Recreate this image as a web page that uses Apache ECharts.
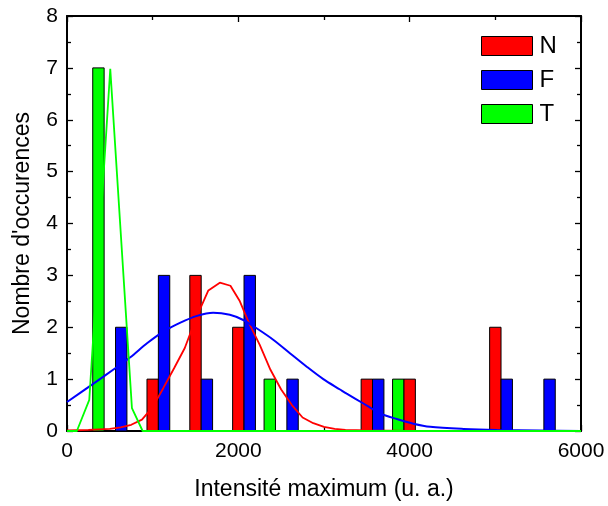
<!DOCTYPE html>
<html>
<head>
<meta charset="utf-8">
<script src="https://cdn.jsdelivr.net/npm/echarts@6/dist/echarts.min.js"></script>
<style>
html,body{margin:0;padding:0;background:#fff;}
#chart{width:608px;height:506px;}
</style>
</head>
<body>
<div id="chart"></div>
<script>
// Histogram data (bin centre, count)
const nBins = [1000, 1500, 2000, 3500, 4000, 5000];
const nCounts = [1, 3, 2, 1, 1, 2];
const fBins = [500, 1000, 1500, 2000, 2500, 3500, 5000, 5500];
const fCounts = [2, 3, 1, 3, 1, 1, 1, 1];
const tBins = [500, 2500, 4000];
const tCounts = [7, 1, 1];

// Fitted curves
const nFitX = [0, 250, 500, 625, 750, 875, 1000, 1125, 1250, 1375, 1500, 1650, 1784, 1908, 2018, 2125, 2250, 2375, 2500, 2625, 2750, 2875, 3000, 3125, 3250, 3500, 4000, 6000];
const nFitY = [0.01, 0.02, 0.04, 0.07, 0.12, 0.22, 0.46, 0.83, 1.21, 1.6, 2.15, 2.71, 2.86, 2.8, 2.5, 2.08, 1.66, 1.18, 0.8, 0.5, 0.26, 0.15, 0.08, 0.04, 0.02, 0.01, 0, 0];
const fFitX = [0, 271, 563, 739, 934, 1129, 1324, 1518, 1706, 1901, 2057, 2213, 2407, 2602, 2798, 2992, 3187, 3265, 3460, 3655, 3850, 4044, 4240, 4630, 5020, 5500, 6000];
const fFitY = [0.56, 0.87, 1.21, 1.42, 1.69, 1.92, 2.09, 2.22, 2.28, 2.24, 2.14, 1.98, 1.76, 1.5, 1.24, 1.0, 0.8, 0.72, 0.53, 0.34, 0.23, 0.14, 0.08, 0.04, 0.02, 0.01, 0];
const tFitX = [0, 115, 260, 505, 758, 883, 6000];
const tFitY = [0, 0, 0.6, 6.98, 0.44, 0, 0];

const xTicks = [0, 2000, 4000, 6000];
const yTicks = [0, 1, 2, 3, 4, 5, 6, 7, 8];

const BAR_W = 133; // bar width in data units
const FONT = '"Liberation Sans", Arial, sans-serif';

function pairs(xs, ys) { return xs.map((x, i) => [x, ys[i]]); }

function barRenderer(offset, color) {
  return function (params, api) {
    const x = api.value(0), y = api.value(1);
    const p0 = api.coord([x + (offset - 0.5) * BAR_W, y]);
    const p1 = api.coord([x + (offset + 0.5) * BAR_W, 0]);
    return {
      type: 'rect',
      shape: { x: p0[0], y: p0[1], width: p1[0] - p0[0], height: p1[1] - p0[1] },
      style: { fill: color, stroke: '#000', lineWidth: 1 }
    };
  };
}

const axisCommon = {
  axisLine: { show: true, onZero: false, lineStyle: { color: '#000', width: 2 } },
  axisTick: { show: true, inside: true, length: 6, lineStyle: { color: '#000', width: 1.3 } },
  minorTick: { show: true, splitNumber: 2, length: 4, lineStyle: { color: '#000', width: 1.3 } },
  splitLine: { show: false }
};

const plain = v => String(v);

const chart = echarts.init(document.getElementById('chart'), null, { renderer: 'canvas' });
chart.setOption({
  animation: false,
  backgroundColor: '#fff',
  grid: { left: 67, right: 27, top: 16, bottom: 75, containLabel: false },
  legend: {
    data: [
      { name: 'N', icon: 'rect', itemStyle: { color: '#ff0000', borderColor: '#000', borderWidth: 1 } },
      { name: 'F', icon: 'rect', itemStyle: { color: '#0000ff', borderColor: '#000', borderWidth: 1 } },
      { name: 'T', icon: 'rect', itemStyle: { color: '#00ff00', borderColor: '#000', borderWidth: 1 } }
    ],
    orient: 'vertical',
    left: 481, top: 34,
    padding: 0,
    itemWidth: 51, itemHeight: 19, itemGap: 10,
    textStyle: { fontFamily: FONT, fontSize: 24, color: '#000', padding: [0, 0, 0, 2] },
    selectedMode: false
  },
  xAxis: [
    Object.assign({}, axisCommon, {
      type: 'value', min: xTicks[0], max: xTicks[xTicks.length - 1], interval: xTicks[1] - xTicks[0],
      position: 'bottom',
      name: 'Intensité maximum (u. a.)', nameLocation: 'middle', nameGap: 47,
      nameTextStyle: { fontFamily: FONT, fontSize: 23, color: '#000' },
      axisLabel: { fontFamily: FONT, fontSize: 21, color: '#000', margin: 10, formatter: plain }
    }),
    Object.assign({}, axisCommon, {
      type: 'value', min: xTicks[0], max: xTicks[xTicks.length - 1], interval: xTicks[1] - xTicks[0],
      position: 'top', axisLabel: { show: false }
    })
  ],
  yAxis: [
    Object.assign({}, axisCommon, {
      type: 'value', min: yTicks[0], max: yTicks[yTicks.length - 1], interval: 1,
      position: 'left',
      name: "Nombre d'occurences", nameLocation: 'middle', nameGap: 33, nameRotate: 90,
      nameTextStyle: { fontFamily: FONT, fontSize: 23, color: '#000' },
      axisLabel: { fontFamily: FONT, fontSize: 21, color: '#000', margin: 9, formatter: plain }
    }),
    Object.assign({}, axisCommon, {
      type: 'value', min: yTicks[0], max: yTicks[yTicks.length - 1], interval: 1,
      position: 'right', axisLabel: { show: false }
    })
  ],
  series: [
    { name: 'T', type: 'custom', renderItem: barRenderer(-1, '#00ff00'), data: pairs(tBins, tCounts), encode: { x: 0, y: 1 }, itemStyle: { color: '#00ff00' }, z: 2 },
    { name: 'N', type: 'custom', renderItem: barRenderer(0, '#ff0000'), data: pairs(nBins, nCounts), encode: { x: 0, y: 1 }, itemStyle: { color: '#ff0000' }, z: 2 },
    { name: 'F', type: 'custom', renderItem: barRenderer(1, '#0000ff'), data: pairs(fBins, fCounts), encode: { x: 0, y: 1 }, itemStyle: { color: '#0000ff' }, z: 2 },
    { name: 'N fit', type: 'line', data: pairs(nFitX, nFitY), showSymbol: false, symbol: 'none', lineStyle: { color: '#ff0000', width: 1.8 }, itemStyle: { color: '#ff0000' }, z: 3, clip: true },
    { name: 'F fit', type: 'line', data: pairs(fFitX, fFitY), showSymbol: false, symbol: 'none', smooth: 0.3, lineStyle: { color: '#0000ff', width: 2 }, itemStyle: { color: '#0000ff' }, z: 3, clip: true },
    { name: 'T fit', type: 'line', data: pairs(tFitX, tFitY), showSymbol: false, symbol: 'none', lineStyle: { color: '#00ff00', width: 1.8 }, itemStyle: { color: '#00ff00' }, z: 3, clip: true }
  ]
});
</script>
</body>
</html>
